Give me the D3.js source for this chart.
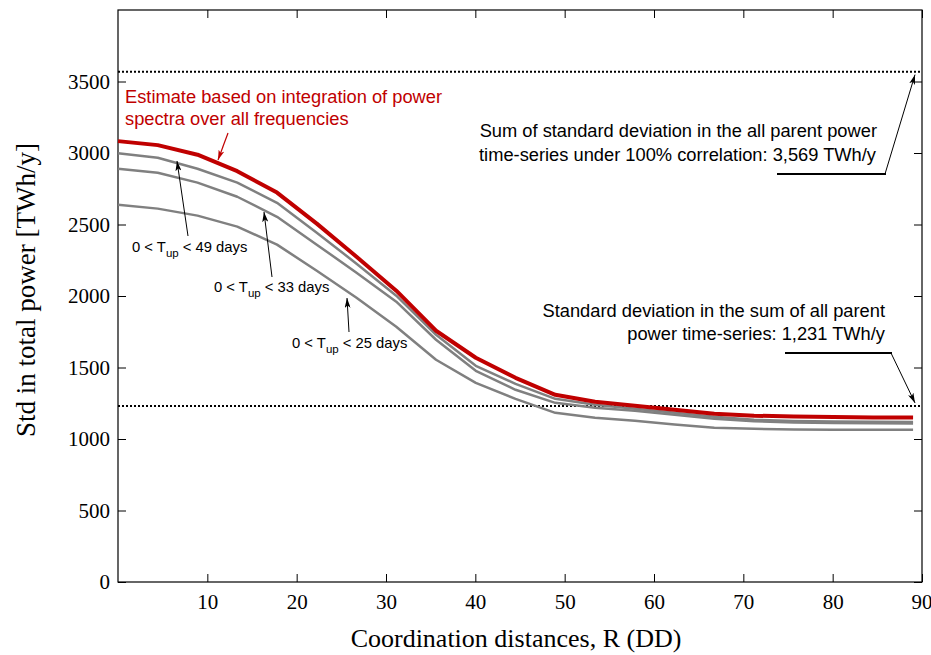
<!DOCTYPE html>
<html><head><meta charset="utf-8">
<script src="https://cdn.jsdelivr.net/npm/d3@7"></script>
<style>
html,body{margin:0;padding:0;background:#fff;}
svg{display:block;}
</style></head>
<body>
<svg id="chart" width="931" height="655"></svg>
<script>
// ---- data ----
const distances = [0, 4.45, 8.9, 13.35, 17.8, 22.25, 26.7, 31.15, 35.6, 40.05, 44.5, 48.95, 53.4, 57.85, 62.3, 66.75, 71.2, 75.65, 80.1, 84.55, 89];
const estimateAll = [3083, 3055, 2988, 2873, 2723, 2506, 2275, 2037, 1757, 1568, 1428, 1309, 1260, 1232, 1204, 1176, 1163, 1157, 1153, 1151, 1150];
const tup49 = [2999, 2967, 2890, 2793, 2652, 2443, 2226, 2002, 1729, 1512, 1386, 1281, 1239, 1211, 1183, 1155, 1135, 1126, 1122, 1120, 1119];
const tup33 = [2890, 2862, 2793, 2694, 2554, 2359, 2163, 1960, 1694, 1477, 1344, 1253, 1218, 1197, 1169, 1141, 1124, 1116, 1112, 1110, 1109];
const tup25 = [2638, 2611, 2562, 2485, 2359, 2177, 1988, 1785, 1554, 1393, 1281, 1183, 1148, 1127, 1102, 1078, 1071, 1067, 1065, 1064, 1064];
const sumStd100 = 3569;
const stdOfSum = 1231;
const xTicks = [10, 20, 30, 40, 50, 60, 70, 80, 90];
const yTicks = [0, 500, 1000, 1500, 2000, 2500, 3000, 3500];

// ---- layout ----
const svg = d3.select("#chart");
const L = 118, R = 922, T = 10, B = 582;
const x = d3.scaleLinear().domain([0, 90]).range([L, R]);
const y = d3.scaleLinear().domain([0, 4000]).range([B, T]);

const defs = svg.append("defs");
function marker(id, color) {
  defs.append("marker").attr("id", id)
    .attr("viewBox", "0 0 10 6").attr("refX", 10).attr("refY", 3)
    .attr("markerWidth", 10).attr("markerHeight", 6)
    .attr("markerUnits", "userSpaceOnUse").attr("orient", "auto")
    .append("path").attr("d", "M0,0 L10,3 L0,6 L2.5,3 z").attr("fill", color);
}
marker("arrK", "#000");
marker("arrR", "#c00000");

const serif = "'Liberation Serif','Times New Roman',serif";
const sans = "'Liberation Sans',Arial,Helvetica,sans-serif";

// axes
const gx = svg.append("g").attr("transform", `translate(0,${B})`)
  .call(d3.axisBottom(x).tickValues(xTicks).tickSizeInner(-8).tickSizeOuter(0).tickPadding(12));
const gy = svg.append("g").attr("transform", `translate(${L},0)`)
  .call(d3.axisLeft(y).tickValues(yTicks).tickSizeInner(-8).tickSizeOuter(0).tickPadding(8).tickFormat(d3.format("d")));
const gxt = svg.append("g").attr("transform", `translate(0,${T})`)
  .call(d3.axisTop(x).tickValues(xTicks).tickSizeInner(-8).tickSizeOuter(0).tickFormat(""));
const gyr = svg.append("g").attr("transform", `translate(${R},0)`)
  .call(d3.axisRight(y).tickValues(yTicks).tickSizeInner(-8).tickSizeOuter(0).tickFormat(""));
[gx, gy, gxt, gyr].forEach(g => {
  g.select(".domain").remove();
  g.selectAll(".tick line").attr("stroke", "#000").attr("stroke-width", 1);
  g.selectAll(".tick text").attr("font-family", serif).attr("font-size", 21).attr("fill", "#000");
});
// keep the last x tick label inside the page
gx.selectAll(".tick text").filter(d => d === 90).attr("text-anchor", "end").attr("dx", 10);
svg.append("rect").attr("x", L).attr("y", T).attr("width", R - L).attr("height", B - T)
  .attr("fill", "none").attr("stroke", "#000").attr("stroke-width", 1.2);

// dotted reference lines
[sumStd100, stdOfSum].forEach(v => {
  svg.append("line").attr("x1", L).attr("x2", R).attr("y1", y(v)).attr("y2", y(v))
    .attr("stroke", "#000").attr("stroke-width", 2).attr("stroke-dasharray", "2,2");
});

// curves
const line = d3.line().x((d, i) => x(distances[i])).y(d => y(d));
[tup25, tup33, tup49].forEach(s => {
  svg.append("path").attr("d", line(s)).attr("fill", "none")
    .attr("stroke", "#808080").attr("stroke-width", 2.5).attr("stroke-linejoin", "round");
});
svg.append("path").attr("d", line(estimateAll)).attr("fill", "none")
  .attr("stroke", "#c00000").attr("stroke-width", 4).attr("stroke-linejoin", "round");

// axis titles
svg.append("text").attr("x", 516).attr("y", 647).attr("text-anchor", "middle")
  .attr("font-family", serif).attr("font-size", 26).text("Coordination distances, R (DD)");
svg.append("text").attr("transform", "translate(35,290) rotate(-90)").attr("text-anchor", "middle")
  .attr("font-family", serif).attr("font-size", 27).text("Std in total power [TWh/y]");

// red annotation
const redT = svg.append("text").attr("font-family", sans).attr("font-size", 18.3).attr("fill", "#c00000");
redT.append("tspan").attr("x", 125).attr("y", 103).text("Estimate based on integration of power");
redT.append("tspan").attr("x", 125).attr("y", 125).text("spectra over all frequencies");
svg.append("line").attr("x1", 228).attr("y1", 133).attr("x2", 218).attr("y2", 160)
  .attr("stroke", "#c00000").attr("stroke-width", 1.2).attr("marker-end", "url(#arrR)");

// T_up labels
const tLabels = [
  {days: 49, tx: 132, ty: 252, a: [188, 236, 177, 161]},
  {days: 33, tx: 214, ty: 292, a: [272, 277, 264, 212]},
  {days: 25, tx: 292, ty: 348, a: [349, 332, 347, 298]}
];
tLabels.forEach(l => {
  const t = svg.append("text").attr("x", l.tx).attr("y", l.ty)
    .attr("font-family", sans).attr("font-size", 14.8).attr("fill", "#000");
  t.append("tspan").text("0 < T");
  t.append("tspan").attr("font-size", 11.5).attr("dy", 5).text("up");
  t.append("tspan").attr("dy", -5).text(" < " + l.days + " days");
  svg.append("line").attr("x1", l.a[0]).attr("y1", l.a[1]).attr("x2", l.a[2]).attr("y2", l.a[3])
    .attr("stroke", "#000").attr("stroke-width", 1).attr("marker-end", "url(#arrK)");
});

// right annotations
const t1 = svg.append("text").attr("font-family", sans).attr("font-size", 18.3).attr("text-anchor", "end");
t1.append("tspan").attr("x", 877).attr("y", 137).text("Sum of standard deviation in the all parent power");
t1.append("tspan").attr("x", 876).attr("y", 161).text("time-series under 100% correlation: 3,569 TWh/y");
svg.append("line").attr("x1", 777).attr("y1", 174).attr("x2", 886).attr("y2", 174)
  .attr("stroke", "#000").attr("stroke-width", 2);
svg.append("line").attr("x1", 885).attr("y1", 174).attr("x2", 915).attr("y2", y(sumStd100) + 3)
  .attr("stroke", "#000").attr("stroke-width", 1).attr("marker-end", "url(#arrK)");

const t2 = svg.append("text").attr("font-family", sans).attr("font-size", 18.3).attr("text-anchor", "end");
t2.append("tspan").attr("x", 885).attr("y", 317).text("Standard deviation in the sum of all parent");
t2.append("tspan").attr("x", 885).attr("y", 340).text("power time-series: 1,231 TWh/y");
svg.append("line").attr("x1", 785).attr("y1", 353).attr("x2", 892).attr("y2", 353)
  .attr("stroke", "#000").attr("stroke-width", 2);
svg.append("line").attr("x1", 891).attr("y1", 353).attr("x2", 915).attr("y2", y(stdOfSum) - 3)
  .attr("stroke", "#000").attr("stroke-width", 1).attr("marker-end", "url(#arrK)");
</script>
</body></html>
